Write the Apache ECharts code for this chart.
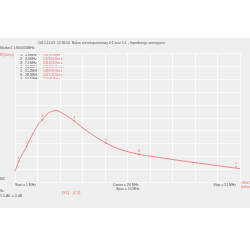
<!DOCTYPE html>
<html><head><meta charset="utf-8">
<script src="https://cdn.jsdelivr.net/npm/echarts@6/dist/echarts.min.js"></script>
<style>html,body{margin:0;padding:0;background:#fff}#c{width:250px;height:250px}</style>
</head><body><div id="c"></div>
<script>
// Frequency sweep (MHz) and measured resistance (Ohms)
var START_MHZ = 1, STOP_MHZ = 51;
var freqMHz = [1, 1.8, 2.7, 3.6, 4.5, 5.4, 6.3, 7.1, 8.4, 10.1, 11.7, 13.0, 14.2, 15.5, 16.9, 19.2, 21.2, 24.3, 28.5, 32.0, 35.4, 42.8, 51];
var resOhms = [420, 800, 1110, 1400, 1720, 2020, 2280, 2430, 2680, 2780, 2660, 2520, 2370, 2180, 2000, 1730, 1530, 1280, 1085, 990, 900, 720, 530];
// markers
var markerNo = [1, 2, 3, 4, 5, 6, 7];
var markerFreq = [1.8, 3.6, 7.1, 14.2, 21.2, 28.5, 50.1];
var markerOhms = [782.1, 1376.0, 2416.5, 2353.5, 1499.9, 1072.2, 574.6];
var markerFreqText = ['1.8MHz', '3.6MHz', '7.1MHz', '14.2MHz', '21.2MHz', '28.5MHz', '50.1MHz'];
var markerValText = ['782.1Ohms', '1376.0Ohms', '2416.5Ohms', '2353.5Ohms', '1499.9Ohms', '1072.2Ohms', '574.6Ohms'];
var titleText = '2012-11-03  12:36:02  Balun szerokopasmowy 4:1 oraz 1:1 - Impedancja szeregowa';

var FONT = 'Liberation Sans';
var RED = '#f26a6a', DARK = '#555';
function t(x, y, s, color, align, size) {
  return {type: 'text', x: x, y: y, silent: true,
    style: {text: s, fill: color || DARK, font: (size || 3.4) + 'px ' + FONT,
      textAlign: align || 'left', textVerticalAlign: 'middle'}};
}
var g = [
  {type: 'rect', shape: {x: 0, y: 38, width: 250, height: 170}, style: {fill: '#efefef'}, z: -10, silent: true},
  t(38, 43, titleText),
  t(0, 48.5, 'Marker1 1.800000MHz'),
  t(0, 55, 'R(Ohms)', RED)
];
for (var i = 0; i < markerNo.length; i++) {
  var y = 55 + i * 4;
  g.push(t(23, y, markerNo[i] + ':', DARK, 'right'));
  g.push(t(25, y, markerFreqText[i]));
  g.push(t(43, y, markerValText[i], RED));
}
g.push(t(0, 179, 'MC'));
g.push(t(15, 185.5, 'Start = 1 MHz'));
g.push(t(113, 185.5, 'Center = 26 MHz'));
g.push(t(116, 189.5, 'Span = 50 MHz'));
g.push(t(236, 185.5, 'Stop = 51 MHz', DARK, 'right'));
g.push(t(241, 183.5, '<Ref1', RED));
g.push(t(241, 187.5, '0ohms', RED));
g.push(t(0, 191.5, 'Sc:'));
g.push(t(0, 196, 'T.C.Att. = 0 dB'));
g.push(t(62, 193, '[S1]', RED, 'left', 4));
g.push(t(73, 193, '[C1]', RED, 'left', 4));

var lineData = freqMHz.map(function (f, i) { return [f - START_MHZ, resOhms[i]]; });
var mkData = markerFreq.map(function (f, i) {
  return {value: [f - START_MHZ, markerOhms[i]], label: {formatter: String(markerNo[i])}};
});

var chart = echarts.init(document.getElementById('c'), null, {renderer: 'canvas'});
chart.setOption({
  animation: false,
  backgroundColor: '#fff',
  grid: {left: 15, right: 10, top: 53.3, bottom: 67.7, containLabel: false},
  xAxis: {type: 'value', min: 0, max: STOP_MHZ - START_MHZ, interval: 5,
    axisLine: {show: false}, axisTick: {show: false}, axisLabel: {show: false},
    splitLine: {show: true, lineStyle: {color: '#fafafa', width: 1}}},
  yAxis: {type: 'value', min: 0, max: 5000, interval: 500,
    axisLine: {show: false}, axisTick: {show: false}, axisLabel: {show: false},
    splitLine: {show: true, lineStyle: {color: '#fafafa', width: 1}}},
  series: [
    {type: 'line', data: lineData, smooth: 0.4, symbol: 'none',
      lineStyle: {color: '#ef8585', width: 1}},
    {type: 'scatter', data: mkData, symbol: 'triangle', symbolRotate: 180, symbolSize: [2.5, 2.5],
      itemStyle: {color: '#ef8585'},
      label: {show: true, position: 'top', distance: 0.5, fontSize: 4, fontFamily: FONT, color: '#e06060'}}
  ],
  graphic: g
});
</script></body></html>
